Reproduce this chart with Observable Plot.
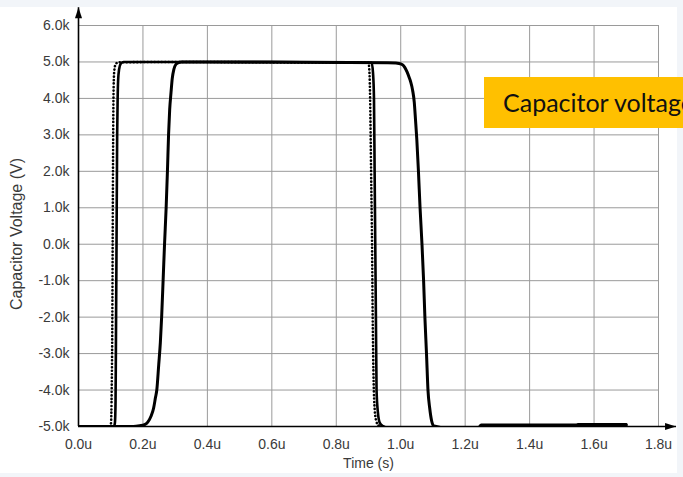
<!DOCTYPE html>
<html>
<head>
<meta charset="utf-8">
<script src="https://cdn.jsdelivr.net/npm/d3@7"></script>
<script src="https://cdn.jsdelivr.net/npm/@observablehq/plot@0.6"></script>
<style>
  html, body { margin: 0; padding: 0; width: 683px; height: 477px; overflow: hidden; background: #f2f5f9; }
  #panel { position: absolute; left: 0; top: 7px; width: 677px; height: 466px; background: #ffffff; }
  #chart { position: absolute; left: 0; top: 0; }
  #tag {
    position: absolute; left: 484px; top: 77px; width: 240px; height: 51px;
    background: #ffc000; color: #111; box-sizing: border-box; padding-left: 19px;
    font-family: Lato, "Open Sans", sans-serif; font-size: 25px; line-height: 51px; white-space: nowrap;
  }
</style>
</head>
<body>
<div id="panel"></div>
<div id="chart"></div>
<div id="tag">Capacitor voltage</div>
<script>
// Time axis (µs) and voltage axis (kV)
const xTicks = [0, 0.2, 0.4, 0.6, 0.8, 1.0, 1.2, 1.4, 1.6, 1.8];
const xTickLabels = ["0.0u", "0.2u", "0.4u", "0.6u", "0.8u", "1.0u", "1.2u", "1.4u", "1.6u", "1.8u"];
const yTicks = [-5, -4, -3, -2, -1, 0, 1, 2, 3, 4, 5, 6];
const yTickLabels = ["-5.0k", "-4.0k", "-3.0k", "-2.0k", "-1.0k", "0.0k", "1.0k", "2.0k", "3.0k", "4.0k", "5.0k", "6.0k"];
const xTitle = "Time (s)";
const yTitle = "Capacitor Voltage (V)";

// Pulse 1 (marker trace)
const t1 = [0, 0.098, 0.101, 0.103, 0.105, 0.106, 0.107, 0.108, 0.109, 0.111,
            0.115, 0.123, 0.30, 0.60, 0.900, 0.903, 0.905, 0.908, 0.911, 0.913,
            0.916, 0.919, 0.924, 0.932, 0.96, 1.54, 1.55, 1.70];
const v1 = [-5, -5, -4.9, -4.0, -2.0, 0, 2.0, 3.5, 4.3, 4.75,
            4.93, 4.99, 5.0, 4.99, 4.98, 4.7, 4.0, 2.0, 0, -2.0,
            -3.8, -4.5, -4.85, -4.98, -5.05, -5.05, -4.94, -4.94];

// Pulse 2
const t2 = [0, 0.110, 0.113, 0.115, 0.116, 0.118, 0.120, 0.1215, 0.123, 0.126,
            0.131, 0.140, 0.40, 0.70, 0.910, 0.914, 0.917, 0.919, 0.921, 0.923,
            0.925, 0.929, 0.935, 0.945, 0.97, 1.54, 1.55, 1.70];
const v2 = [-5, -5, -4.9, -4.3, -3.0, 0, 3.0, 4.0, 4.5, 4.8,
            4.95, 5.0, 5.0, 4.99, 4.98, 4.7, 4.0, 2.0, 0, -2.0,
            -4.0, -4.6, -4.9, -4.99, -5.05, -5.05, -4.94, -4.94];

// Pulse 3 (slow edges)
const t3 = [0, 0.170, 0.190, 0.205, 0.215, 0.225, 0.233, 0.239, 0.243, 0.249,
            0.254, 0.258, 0.263, 0.267, 0.272, 0.276, 0.2795, 0.283, 0.287, 0.291,
            0.296, 0.302, 0.310, 0.320, 0.60, 0.960, 0.985, 1.002, 1.012, 1.020,
            1.026, 1.031, 1.037, 1.042, 1.046, 1.050, 1.055, 1.060, 1.066, 1.071,
            1.075, 1.080, 1.0846, 1.090, 1.096, 1.102, 1.110, 1.150, 1.240, 1.250,
            1.700];
const v3 = [-5, -5, -4.98, -4.95, -4.88, -4.72, -4.5, -4.2, -4.0, -3.3,
            -2.7, -2.0, -0.9, 0, 1.0, 2.0, 3.0, 3.7, 4.15, 4.55,
            4.8, 4.93, 4.98, 5.0, 5.0, 4.98, 4.97, 4.94, 4.86, 4.72,
            4.58, 4.45, 4.22, 3.9, 3.4, 2.86, 2.0, 1.0, 0, -1.0,
            -2.0, -3.0, -4.0, -4.5, -4.85, -4.98, -5.0, -5.05, -5.05, -4.96,
            -4.96];

// Ends of the arrowed axis lines, in data units
const axisXEnd = 1.856;
const axisYEnd = 6.49;

const rows = (t, v) => t.map((d, i) => ({t: d, v: v[i]}));
const s1 = rows(t1, v1), s2 = rows(t2, v2), s3 = rows(t3, v3);

const ink = "#3a3a3a";
const chart = Plot.plot({
  width: 683,
  height: 477,
  marginLeft: 78,
  marginRight: 25,
  marginTop: 25,
  marginBottom: 51,
  x: {domain: [0, 1.8]},
  y: {domain: [-5, 6]},
  style: {background: "transparent", fontFamily: "'Liberation Sans', Arial, sans-serif", fontSize: "14px", color: ink},
  marks: [
    Plot.gridX(xTicks, {stroke: "#9a9a9a", strokeOpacity: 1, strokeWidth: 1}),
    Plot.gridY(yTicks, {stroke: "#9a9a9a", strokeOpacity: 1, strokeWidth: 1}),
    Plot.axisX(xTicks, {tickSize: 0, tickPadding: 12.5, label: null, fill: ink,
      tickFormat: d => xTickLabels[xTicks.indexOf(d)]}),
    Plot.axisY(yTicks, {tickSize: 0, tickPadding: 9, label: null, fill: ink,
      tickFormat: d => yTickLabels[yTicks.indexOf(d)]}),
    Plot.text([xTitle], {text: d => d, frameAnchor: "bottom", dy: 41, fill: ink, fontSize: 14}),
    Plot.text([yTitle], {text: d => d, frameAnchor: "left", textAnchor: "middle", rotate: -90,
      dx: -61.5, dy: 8, fill: ink, fontSize: 16}),
    Plot.line(s1, {x: "t", y: "v", curve: "monotone-x", clip: true, stroke: "#000",
      strokeWidth: 2.6, strokeDasharray: "0.1 3.4", strokeLinecap: "round"}),
    Plot.line(s2, {x: "t", y: "v", curve: "monotone-x", clip: true, stroke: "#000", strokeWidth: 2.6, strokeLinejoin: "round"}),
    Plot.line(s3, {x: "t", y: "v", curve: "monotone-x", clip: true, stroke: "#000", strokeWidth: 3, strokeLinejoin: "round"}),
    Plot.ruleY([-5], {x1: 0, x2: axisXEnd, stroke: "#000", strokeWidth: 1.6}),
    Plot.ruleX([0], {y1: -5, y2: axisYEnd, stroke: "#000", strokeWidth: 1.6})
  ]
});

// Filled arrowheads at the ends of both axis lines, placed through the plot's scales
const sx = chart.scale("x"), sy = chart.scale("y");
const svg = d3.select(chart);
const x0 = sx.apply(0) + 0.5, yb = sy.apply(-5) + 0.5;
const xe = sx.apply(axisXEnd), ye = sy.apply(axisYEnd);
svg.append("path")
  .attr("d", `M${xe},${yb}L${xe - 11},${yb - 3.5}L${xe - 11},${yb + 3.5}Z`)
  .attr("fill", "#000");
svg.append("path")
  .attr("d", `M${x0},${ye}L${x0 - 3.5},${ye + 11}L${x0 + 3.5},${ye + 11}Z`)
  .attr("fill", "#000");

document.getElementById("chart").append(chart);
</script>
</body>
</html>
